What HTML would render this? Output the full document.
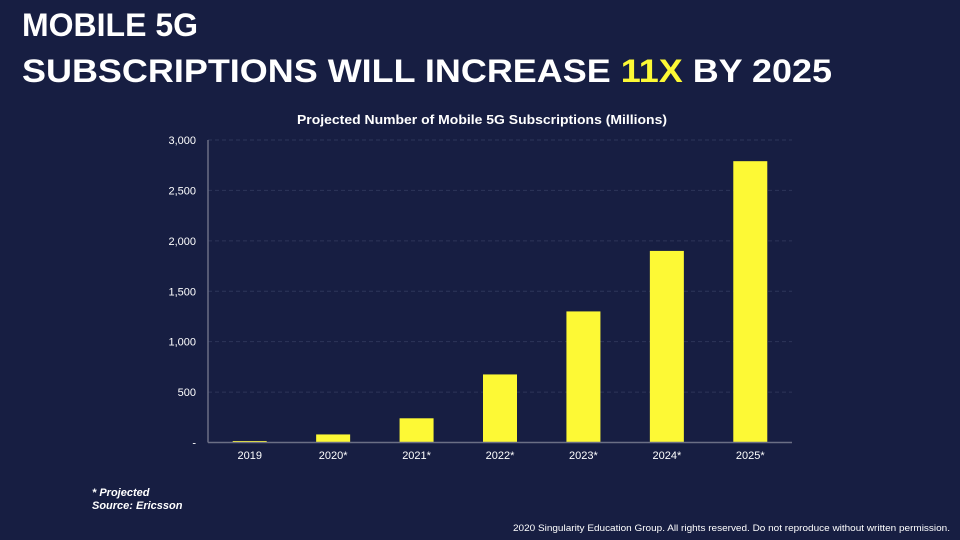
<!DOCTYPE html>
<html>
<head>
<meta charset="utf-8">
<style>
  html,body{margin:0;padding:0;background:#171e42;}
  body{width:960px;height:540px;overflow:hidden;font-family:"Liberation Sans",Arial,sans-serif;}
  svg{display:block;}
</style>
</head>
<body>
<svg id="chart" width="960" height="540" viewBox="0 0 960 540" xmlns="http://www.w3.org/2000/svg">
  <rect x="0" y="0" width="960" height="540" fill="#171e42"/>
  <text x="22" y="36" fill="#ffffff" font-family="Liberation Sans, Arial, sans-serif" font-weight="bold" font-size="32">MOBILE 5G</text>
  <text x="22" y="82" fill="#ffffff" font-family="Liberation Sans, Arial, sans-serif" font-weight="bold" font-size="32" textLength="810" lengthAdjust="spacingAndGlyphs">SUBSCRIPTIONS WILL INCREASE <tspan fill="#fdf935">11X</tspan> BY 2025</text>
  <text x="482" y="124" text-anchor="middle" fill="#ffffff" font-family="Liberation Sans, Arial, sans-serif" font-weight="bold" font-size="13" textLength="370" lengthAdjust="spacingAndGlyphs">Projected Number of Mobile 5G Subscriptions (Millions)</text>
  <g id="grid"></g>
  <g id="yticks"></g>
  <g id="bars"></g>
  <g id="xticks"></g>
  <line x1="208" y1="140" x2="208" y2="442.5" stroke="#6b6f85" stroke-width="1.5"/>
  <line x1="208" y1="442.5" x2="792" y2="442.5" stroke="#6b6f85" stroke-width="1.5"/>
  <text x="92" y="496" fill="#ffffff" font-family="Liberation Sans, Arial, sans-serif" font-weight="bold" font-style="italic" font-size="11">* Projected</text>
  <text x="92" y="509" fill="#ffffff" font-family="Liberation Sans, Arial, sans-serif" font-weight="bold" font-style="italic" font-size="11">Source: Ericsson</text>
  <text x="950" y="531" text-anchor="end" fill="#ffffff" font-family="Liberation Sans, Arial, sans-serif" font-size="9.5" textLength="437" lengthAdjust="spacingAndGlyphs">2020 Singularity Education Group. All rights reserved. Do not reproduce without written permission.</text>
</svg>
<script>
const categories = ["2019","2020*","2021*","2022*","2023*","2024*","2025*"];
const subscriptions = [15, 80, 240, 675, 1300, 1900, 2790];
const tickValues = [0, 500, 1000, 1500, 2000, 2500, 3000];
const tickLabels = ["-", "500", "1,000", "1,500", "2,000", "2,500", "3,000"];

const NS = "http://www.w3.org/2000/svg";
const plotLeft = 208, plotRight = 792, plotTop = 140, plotBottom = 442.5, yMax = 3000;
function yScale(v){ return plotBottom - (v / yMax) * (plotBottom - plotTop); }
const band = (plotRight - plotLeft) / categories.length;
function xCenter(i){ return plotLeft + band * (i + 0.5); }
const barWidth = 34;

const grid = document.getElementById('grid');
const yticks = document.getElementById('yticks');
tickValues.forEach((v, i) => {
  const y = yScale(v);
  if (v > 0) {
    const l = document.createElementNS(NS, 'line');
    l.setAttribute('x1', plotLeft); l.setAttribute('x2', plotRight);
    l.setAttribute('y1', y); l.setAttribute('y2', y);
    l.setAttribute('stroke', '#2e365a'); l.setAttribute('stroke-width', '1');
    l.setAttribute('stroke-dasharray', '4 3');
    
    
    grid.appendChild(l);
  }
  const t = document.createElementNS(NS, 'text');
  t.setAttribute('x', 196); t.setAttribute('y', y + 4);
  t.setAttribute('text-anchor', 'end'); t.setAttribute('fill', '#ffffff');
  t.setAttribute('font-family', 'Liberation Sans, Arial, sans-serif');
  t.setAttribute('font-size', '11');
  t.textContent = tickLabels[i];
  
  
  yticks.appendChild(t);
});

const bars = document.getElementById('bars');
const xticks = document.getElementById('xticks');
categories.forEach((c, i) => {
  const cx = xCenter(i);
  const top = yScale(subscriptions[i]);
  const r = document.createElementNS(NS, 'rect');
  r.setAttribute('x', cx - barWidth / 2); r.setAttribute('y', top);
  r.setAttribute('width', barWidth); r.setAttribute('height', plotBottom - top);
  r.setAttribute('fill', '#fdf935');
  
  
  bars.appendChild(r);
  const t = document.createElementNS(NS, 'text');
  t.setAttribute('x', cx); t.setAttribute('y', 459);
  t.setAttribute('text-anchor', 'middle'); t.setAttribute('fill', '#ffffff');
  t.setAttribute('font-family', 'Liberation Sans, Arial, sans-serif');
  t.setAttribute('font-size', '11');
  t.textContent = c;
  
  
  xticks.appendChild(t);
});
</script>
</body>
</html>
